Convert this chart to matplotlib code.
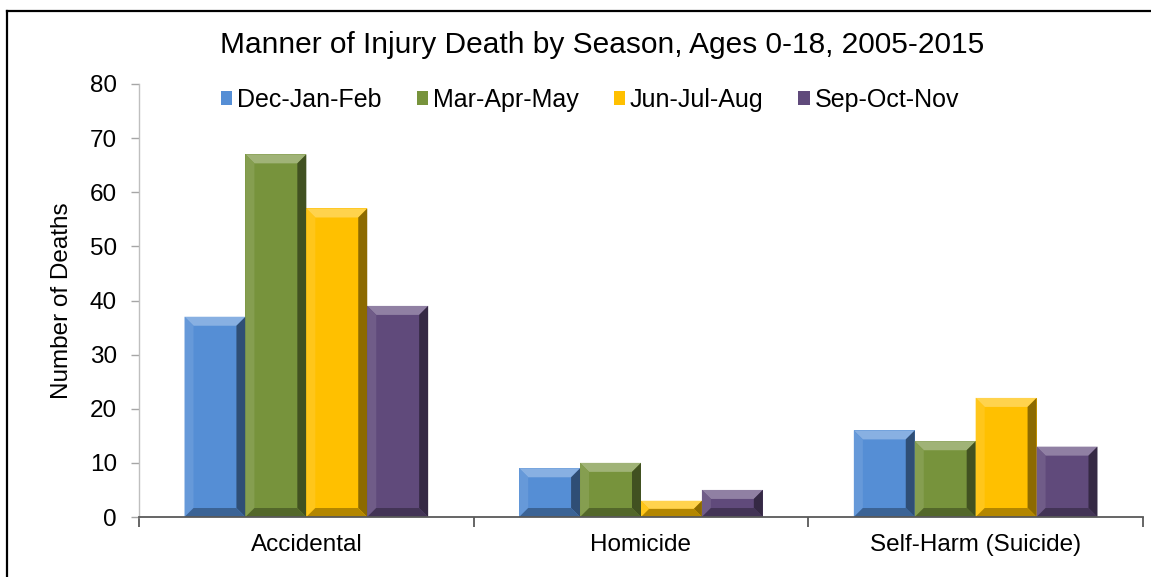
import matplotlib
matplotlib.use("Agg")
import matplotlib.pyplot as plt
import matplotlib.colors as mcolors
from matplotlib.patches import Polygon, Patch
from matplotlib.lines import Line2D
import numpy as np

categories = ["Accidental", "Homicide", "Self-Harm (Suicide)"]
seasons = ["Dec-Jan-Feb", "Mar-Apr-May", "Jun-Jul-Aug", "Sep-Oct-Nov"]
dec_jan_feb = [37, 9, 16]
mar_apr_may = [67, 10, 14]
jun_jul_aug = [57, 3, 22]
sep_oct_nov = [39, 5, 13]
colors = ["#558ED5", "#77933C", "#FFC000", "#604A7B"]
title = "Manner of Injury Death by Season, Ages 0-18, 2005-2015"
ylabel = "Number of Deaths"
yticks = [0, 10, 20, 30, 40, 50, 60, 70, 80]

series = [dec_jan_feb, mar_apr_may, jun_jul_aug, sep_oct_nov]

plt.rcParams['font.family'] = ['Liberation Sans', 'DejaVu Sans']

W, H = 1151, 577
fig = plt.figure(figsize=(W / 100, H / 100), dpi=100)
ax = fig.add_axes([139 / W, 1 - 517 / H, (1143 - 139) / W, (517 - 84) / H])

ncat = len(categories)
x = np.arange(ncat)
bw = 0.182
ax.set_xlim(-0.5, ncat - 0.5)
ax.set_ylim(0, 80)


def mix(c, other, t):
    a = np.array(mcolors.to_rgb(c))
    b = np.array(mcolors.to_rgb(other))
    return tuple(a * (1 - t) + b * t)


# pixels per data unit
p0 = ax.transData.transform((0, 0))
p1 = ax.transData.transform((1, 1))
pxx = p1[0] - p0[0]
pxy = p1[1] - p0[1]
bev = 9.0

for i, (vals, col) in enumerate(zip(series, colors)):
    offs = x + (i - 1.5) * bw
    bars = ax.bar(offs, vals, width=bw, color=col, edgecolor='none', zorder=2)
    for r in bars:
        x0 = r.get_x()
        x1 = x0 + r.get_width()
        y0 = r.get_y()
        y1 = y0 + r.get_height()
        hpx = (y1 - y0) * pxy
        wpx = (x1 - x0) * pxx
        b = min(bev, hpx / 2, wpx / 2)
        bx = b / pxx
        by = b / pxy
        ix0, ix1, iy0, iy1 = x0 + bx, x1 - bx, y0 + by, y1 - by
        polys = [
            ([(x0, y1), (x1, y1), (ix1, iy1), (ix0, iy1)], mix(col, 'white', 0.3)),
            ([(x0, y0), (x0, y1), (ix0, iy1), (ix0, iy0)], mix(col, 'white', 0.1)),
            ([(x1, y0), (x1, y1), (ix1, iy1), (ix1, iy0)], mix(col, 'black', 0.45)),
            ([(x0, y0), (x1, y0), (ix1, iy0), (ix0, iy0)], mix(col, 'black', 0.3)),
        ]
        for pts, c in polys:
            ax.add_patch(Polygon(pts, closed=True, facecolor=c, edgecolor='none', zorder=3))

# axes styling
for s in ['top', 'right']:
    ax.spines[s].set_visible(False)
ax.spines['left'].set_color('#BFBFBF')
ax.spines['left'].set_linewidth(1.0)
ax.spines['bottom'].set_color('#595959')
ax.spines['bottom'].set_linewidth(1.3)
ax.spines['bottom'].set_zorder(5)

ax.set_yticks(yticks)
ax.tick_params(axis='y', length=6, color='#A6A6A6', width=1, labelsize=17.5, pad=10)

ax.set_xticks(np.arange(ncat + 1) - 0.5)
ax.set_xticklabels([])
ax.set_xticks(x, minor=True)
ax.set_xticklabels(categories, minor=True)
ax.tick_params(axis='x', which='major', length=7, color='#595959', width=1.3, direction='out')
ax.tick_params(axis='x', which='minor', length=0, labelsize=17.5, pad=12)

ax.set_ylabel(ylabel, fontsize=17.5, labelpad=12)

fig.text(602 / W, 1 - 45 / H, title, fontsize=21.5, ha='center', va='center')

handles = [Patch(facecolor=c, edgecolor='none') for c in colors]
fig.legend(handles, seasons, loc='center', bbox_to_anchor=(590 / W, 1 - 100 / H),
           ncol=4, frameon=False, fontsize=18, handlelength=0.45, handleheight=0.45,
           handletextpad=0.2, columnspacing=1.4, borderpad=0)

# outer border (left and top)
fig.add_artist(Line2D([7 / W, 7 / W], [0, 1 - 11 / H], transform=fig.transFigure,
                      color='black', linewidth=1.6))
fig.add_artist(Line2D([7 / W, 1], [1 - 11 / H, 1 - 11 / H], transform=fig.transFigure,
                      color='black', linewidth=1.6))

fig.savefig("out.png", dpi=100)
